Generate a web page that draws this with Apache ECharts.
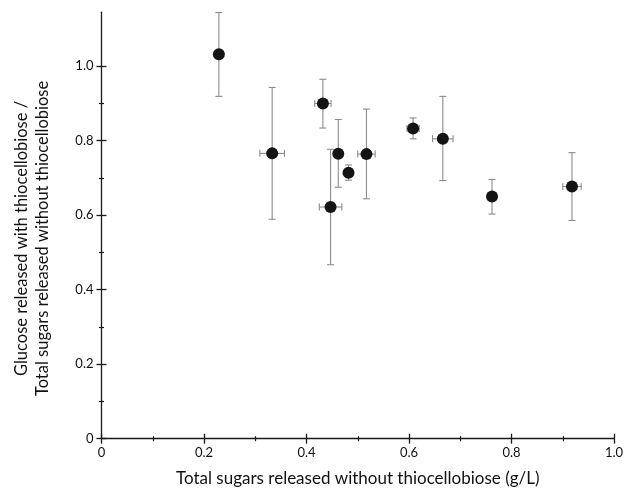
<!DOCTYPE html>
<html>
<head>
<meta charset="utf-8">
<script src="https://cdn.jsdelivr.net/npm/echarts@6/dist/echarts.min.js"></script>
<style>
html,body{margin:0;padding:0;background:#fff;}
#chart{width:625px;height:489px;}
</style>
</head>
<body>
<div id="chart"></div>
<script>
// Data
var xValues  = [0.229, 0.333, 0.432, 0.447, 0.462, 0.482, 0.517, 0.608, 0.666, 0.762, 0.918];
var yValues  = [1.032, 0.766, 0.900, 0.622, 0.765, 0.714, 0.764, 0.833, 0.805, 0.650, 0.677];
var yLow     = [0.919, 0.589, 0.834, 0.467, 0.675, 0.694, 0.644, 0.805, 0.693, 0.603, 0.586];
var yHigh    = [1.144, 0.943, 0.965, 0.777, 0.857, 0.735, 0.885, 0.861, 0.919, 0.696, 0.768];
var xErr     = [0, 0.024, 0.016, 0.022, 0, 0, 0.017, 0.012, 0.020, 0, 0.018];

var xMajorTicks = [0, 0.2, 0.4, 0.6, 0.8, 1.0];
var xMinorTicks = [0.1, 0.3, 0.5, 0.7, 0.9];
var xTickLabels = ['0', '0.2', '0.4', '0.6', '0.8', '1.0'];
var yMajorTicks = [0, 0.2, 0.4, 0.6, 0.8, 1.0];
var yMinorTicks = [0.1, 0.3, 0.5, 0.7, 0.9];
var yTickLabels = ['0', '0.2', '0.4', '0.6', '0.8', '1.0'];

var xTitle = 'Total sugars released without thiocellobiose (g/L)';
var yTitleLines = ['Glucose released with thiocellobiose /', 'Total sugars released without thiocellobiose'];

var FONT = 'Lato';
var AXIS_COLOR = '#1a1a1a';

function labelFor(ticks, labels) {
  return function (v) {
    for (var i = 0; i < ticks.length; i++) {
      if (Math.abs(ticks[i] - v) < 1e-6) return labels[i];
    }
    return '';
  };
}

function makeAxes(kind, min, max, majors, minors, labels, extra) {
  var base = {
    type: 'value', min: min, max: max,
    splitLine: {show: false}
  };
  function ax(o) {
    return Object.assign({}, base, o);
  }
  var pos = kind === 'x' ? 'bottom' : 'left';
  return [
    ax(Object.assign({
      position: pos, offset: 0,
      axisLine: {show: true, lineStyle: {color: AXIS_COLOR, width: 1.3}},
      axisTick: {show: true, inside: false, length: 5, customValues: majors, lineStyle: {color: AXIS_COLOR, width: 1.3}},
      axisLabel: {show: true, customValues: majors, formatter: labelFor(majors, labels), color: '#111', fontFamily: FONT, fontSize: 13, margin: 8}
    }, extra)),
    ax({
      position: pos, offset: 0,
      axisLine: {show: false},
      axisTick: {show: true, inside: true, length: 5, customValues: majors, lineStyle: {color: AXIS_COLOR, width: 1.3}},
      axisLabel: {show: false}
    }),
    ax({
      position: pos, offset: 0,
      axisLine: {show: false},
      axisTick: {show: true, inside: false, length: 2.5, customValues: minors, lineStyle: {color: AXIS_COLOR, width: 1.2}},
      axisLabel: {show: false}
    }),
    ax({
      position: pos, offset: 0,
      axisLine: {show: false},
      axisTick: {show: true, inside: true, length: 2.5, customValues: minors, lineStyle: {color: AXIS_COLOR, width: 1.2}},
      axisLabel: {show: false}
    })
  ];
}

var chart = echarts.init(document.getElementById('chart'), null, {renderer: 'canvas'});

var errData = xValues.map(function (x, i) { return [x, yValues[i], yLow[i], yHigh[i], xErr[i]]; });
var ptData = xValues.map(function (x, i) { return [x, yValues[i]]; });

var ERR_COLOR = '#8c8c8c';
var CAP = 3.5;

var option = {
  backgroundColor: '#ffffff',
  animation: false,
  grid: {left: 101.5, right: 11, top: 12.2, bottom: 50.3, containLabel: false, outerBoundsMode: 'none'},
  xAxis: makeAxes('x', 0, 1.0, xMajorTicks, xMinorTicks, xTickLabels, {
    name: xTitle, nameLocation: 'middle', nameGap: 31,
    nameTextStyle: {fontFamily: FONT, fontSize: 17, color: '#111'}
  }),
  yAxis: makeAxes('y', 0, 1.145, yMajorTicks, yMinorTicks, yTickLabels, {
    name: yTitleLines.join('\n'), nameLocation: 'middle', nameGap: 48,
    nameTextStyle: {fontFamily: FONT, fontSize: 16.5, color: '#111', lineHeight: 21, align: 'center', padding: [0, 26, 0, 0]}
  }),
  series: [
    {
      type: 'custom',
      xAxisIndex: 0, yAxisIndex: 0,
      clip: false,
      z: 2,
      data: errData,
      encode: {x: 0, y: 1},
      renderItem: function (params, api) {
        var x = api.value(0), y = api.value(1), lo = api.value(2), hi = api.value(3), xe = api.value(4);
        var pLo = api.coord([x, lo]);
        var pHi = api.coord([x, hi]);
        var st = {stroke: ERR_COLOR, lineWidth: 1.1};
        var children = [
          {type: 'line', shape: {x1: pLo[0], y1: pLo[1], x2: pHi[0], y2: pHi[1]}, style: st},
          {type: 'line', shape: {x1: pLo[0] - CAP, y1: pLo[1], x2: pLo[0] + CAP, y2: pLo[1]}, style: st},
          {type: 'line', shape: {x1: pHi[0] - CAP, y1: pHi[1], x2: pHi[0] + CAP, y2: pHi[1]}, style: st}
        ];
        if (xe > 0) {
          var pL = api.coord([x - xe, y]);
          var pR = api.coord([x + xe, y]);
          children.push(
            {type: 'line', shape: {x1: pL[0], y1: pL[1], x2: pR[0], y2: pR[1]}, style: st},
            {type: 'line', shape: {x1: pL[0], y1: pL[1] - CAP, x2: pL[0], y2: pL[1] + CAP}, style: st},
            {type: 'line', shape: {x1: pR[0], y1: pR[1] - CAP, x2: pR[0], y2: pR[1] + CAP}, style: st}
          );
        }
        return {type: 'group', children: children};
      }
    },
    {
      type: 'scatter',
      xAxisIndex: 0, yAxisIndex: 0,
      z: 5,
      symbol: 'circle',
      symbolSize: 12,
      itemStyle: {color: '#141414', opacity: 1},
      data: ptData
    }
  ]
};

chart.setOption(option);
</script>
</body>
</html>
